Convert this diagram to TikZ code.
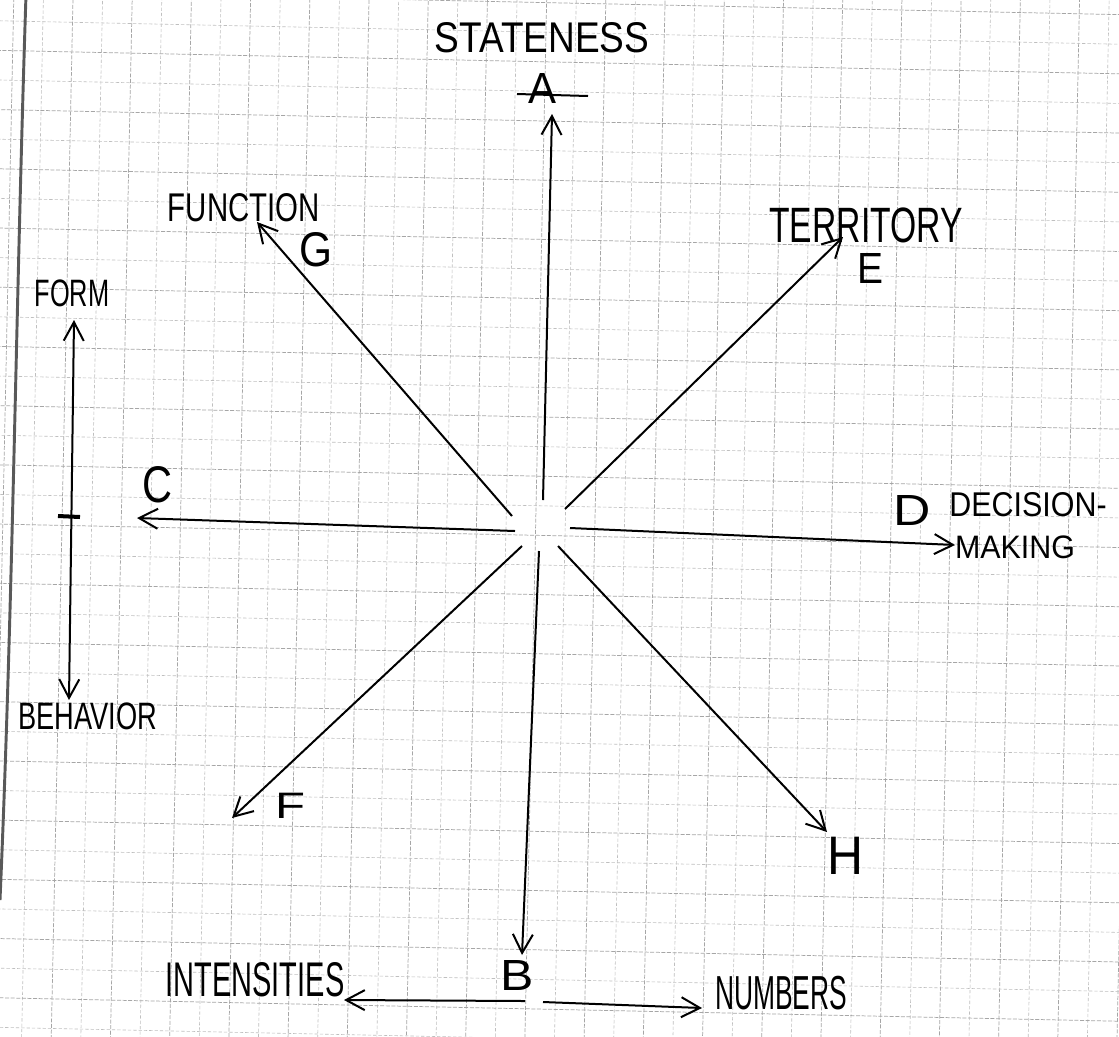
\documentclass[tikz,border=0pt]{standalone}
\usepackage{fontspec}
\setmainfont{Liberation Sans}
\usepackage{graphicx}
\usetikzlibrary{arrows.meta}
\begin{document}
\begin{tikzpicture}[x=0.75pt,y=-0.75pt,
  gridline/.style={gray!50,line width=0.45pt,dash pattern=on 2.5pt off 1.5pt},
  gridmajor/.style={gray!70,line width=0.55pt,dash pattern=on 3pt off 1.2pt},
  tipx/.tip={Straight Barb[length=14pt,width=15pt]},
  arr/.style={black,line width=1.5pt,-tipx},
  dbl/.style={black,line width=1.5pt,tipx-tipx},
  pen/.style={black,line width=1.5pt},
  lbl/.style={inner sep=0pt,text=black}]
\useasboundingbox (0,0) rectangle (1119,1036);
\fill[white] (0,0) rectangle (1119,1036);
% grid paper
\begin{scope}
\clip (0,0) rectangle (1119,1036);
\begin{scope}[rotate around={-1.2:(560,518)}]
\foreach \i in {-3,...,40} {
  \pgfmathtruncatemacro{\m}{mod(\i+40,2)}
  \ifnum\m=0
    \draw[gridmajor] ({3+29.6*\i},-80) -- ({3+29.6*\i},1120);
  \else
    \draw[gridline] ({3+29.6*\i},-80) -- ({3+29.6*\i},1120);
  \fi
}
\foreach \j in {-3,...,38} {
  \pgfmathtruncatemacro{\m}{mod(\j+40,2)}
  \ifnum\m=0
    \draw[gridmajor] (-80,{3+29.6*\j}) -- (1200,{3+29.6*\j});
  \else
    \draw[gridline] (-80,{3+29.6*\j}) -- (1200,{3+29.6*\j});
  \fi
}
\end{scope}
% paper edge
\draw[gray!70!black,line width=2.2pt] (26,-5) .. controls (16,300) and (13,600) .. (0,900);
\end{scope}

% labels
\node[lbl] (STATENESS) at (542,38) {\resizebox{161pt}{22.5pt}{STATENESS}};
\node[lbl] (A) at (542,88) {\resizebox{21pt}{22.5pt}{A}};
\node[lbl] (FUNCTION) at (244,208) {\resizebox{114pt}{21pt}{FUNCTION}};
\node[lbl] (G) at (316,250) {\resizebox{24.75pt}{25.5pt}{G}};
\node[lbl] (FORM) at (72,293) {\resizebox{56pt}{20pt}{FORM}};
\node[lbl] (C) at (157,485) {\resizebox{22.5pt}{27pt}{C}};
\node[lbl] (TERRITORY) at (866,225) {\resizebox{145pt}{26pt}{TERRITORY}};
\node[lbl] (E) at (870,268) {\resizebox{19.5pt}{22.5pt}{E}};
\node[lbl] (D) at (912,510) {\resizebox{28pt}{22.5pt}{D}};
\node[lbl] (DECISION) at (1028,505) {\resizebox{118pt}{18pt}{DECISION-}};
\node[lbl] (MAKING) at (1015,547) {\resizebox{90pt}{17pt}{MAKING}};
\node[lbl] (BEHAVIOR) at (88,716) {\resizebox{104pt}{20pt}{BEHAVIOR}};
\node[lbl] (F) at (290,806) {\resizebox{22.5pt}{19pt}{F}};
\node[lbl] (H) at (845,856) {\resizebox{27pt}{28pt}{H}};
\node[lbl] (B) at (517,975) {\resizebox{25pt}{22.5pt}{B}};
\node[lbl] (INTENSITIES) at (255,980) {\resizebox{134pt}{25.5pt}{INTENSITIES}};
\node[lbl] (NUMBERS) at (781,993) {\resizebox{99pt}{25pt}{NUMBERS}};

% arrow start and tip points
\coordinate (sA) at (543,500); \coordinate (tA) at (552,114);
\coordinate (sG) at (512,516); \coordinate (tG) at (257,222);
\coordinate (sE) at (565,509); \coordinate (tE) at (843,237);
\coordinate (sC) at (515,531); \coordinate (tC) at (137,518);
\coordinate (sD) at (570,528); \coordinate (tD) at (955,545);
\coordinate (sF) at (522,546); \coordinate (tF) at (232,818);
\coordinate (sB) at (539,551); \coordinate (tB) at (522,955);
\coordinate (sH) at (558,546); \coordinate (tH) at (827,832);
\coordinate (sI) at (525,1001); \coordinate (tI) at (344,1000);
\coordinate (sN) at (543,1002); \coordinate (tN) at (702,1008);
\coordinate (tFo) at (74,320); \coordinate (tBe) at (69,700);
\coordinate (tick1) at (58,516); \coordinate (tick2) at (80,517);
\coordinate (strike1) at (517,94); \coordinate (strike2) at (588,96);

\draw[arr] (sA) -- (tA);
\draw[arr] (sG) -- (tG);
\draw[arr] (sE) -- (tE);
\draw[arr] (sC) -- (tC);
\draw[arr] (sD) -- (tD);
\draw[arr] (sF) -- (tF);
\draw[arr] (sB) -- (tB);
\draw[arr] (sH) -- (tH);
\draw[arr] (sI) -- (tI);
\draw[arr] (sN) -- (tN);
\draw[dbl] (tFo) -- (tBe);
\draw[pen,line width=3pt] (tick1) -- (tick2);
\draw[pen] (strike1) -- (strike2);
\end{tikzpicture}
\end{document}
